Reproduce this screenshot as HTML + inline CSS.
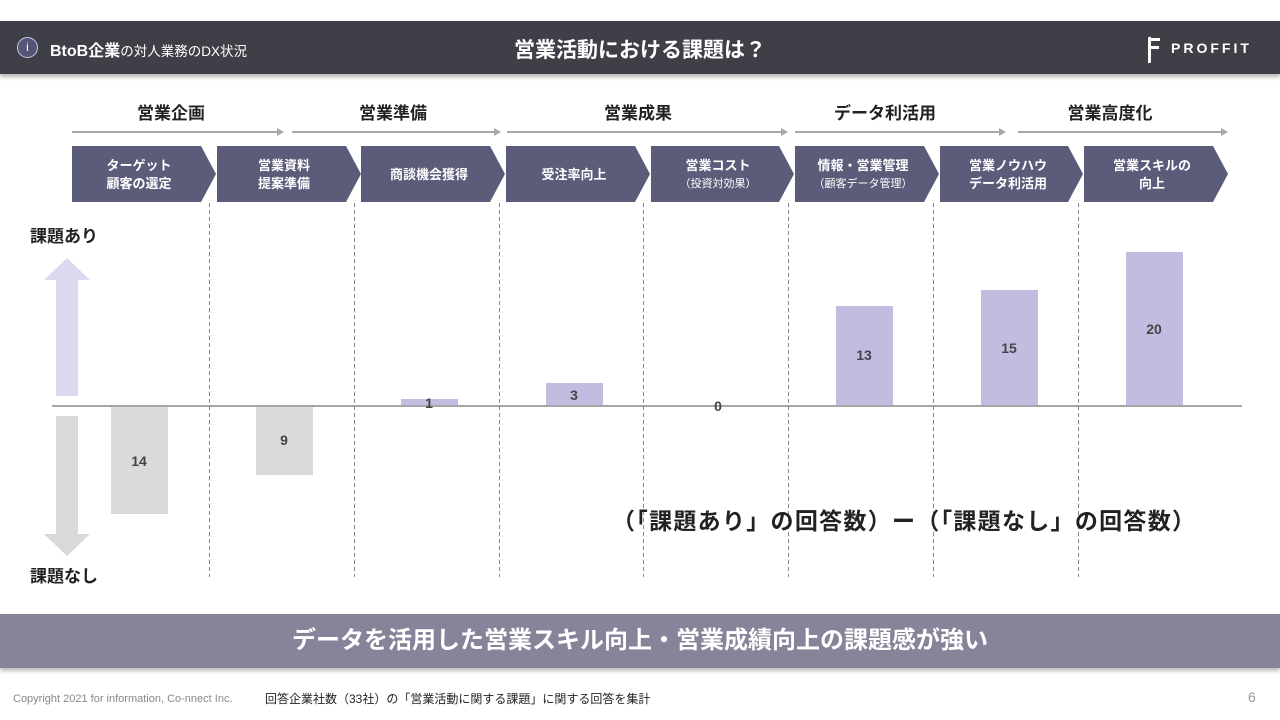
<!DOCTYPE html>
<html><head><meta charset="utf-8"><style>
body{margin:0;width:1280px;height:720px;background:#fff;overflow:hidden;font-family:"Liberation Sans","Noto Sans CJK JP",sans-serif;position:relative}
.a{position:absolute}
</style></head><body>
<div class="a" style="left:0;top:21px;width:1280px;height:53px;background:#3f4047;box-shadow:0 3px 4px rgba(0,0,0,0.3)"></div>
<div class="a" style="left:17px;top:37px;width:19px;height:19px;border:1.5px solid #c8c8e0;border-radius:50%;background:#55557a;color:#fff;font-size:12px;text-align:center;line-height:19px">i</div>
<div class="a" style="left:50px;top:37px;color:#fff;font-size:16px;font-weight:bold;white-space:nowrap">BtoB企業<span style="font-weight:normal;font-size:13.5px">の対人業務のDX状況</span></div>
<div class="a" style="left:0;width:1280px;top:34px;text-align:center;color:#fff;font-size:21px;font-weight:bold">営業活動における課題は？</div>
<div class="a" style="left:1148px;top:36px;width:9px;height:26px;border-left:3px solid #fff;transform:skewY(-12deg)"></div>
<div class="a" style="left:1150px;top:38px;width:10px;height:3px;background:#fff"></div>
<div class="a" style="left:1150px;top:46px;width:9px;height:3px;background:#fff"></div>
<div class="a" style="left:1171px;top:40px;color:#fff;font-size:14px;font-weight:bold;letter-spacing:3px">PROFFIT</div>

<svg class="a" style="left:0;top:0" width="1280" height="720">
<g font-family="Liberation Sans,Noto Sans CJK JP,sans-serif" font-weight="bold" font-size="17" fill="#222" text-anchor="middle">
<text x="171" y="119">営業企画</text><text x="393" y="119">営業準備</text><text x="638" y="119">営業成果</text><text x="885" y="119">データ利活用</text><text x="1110" y="119">営業高度化</text>
</g>
<g stroke="#a8a8a8" stroke-width="2" fill="#a8a8a8">
<line x1="72" y1="132" x2="278" y2="132"/><polygon points="277,128 284,132 277,136" stroke="none"/>
<line x1="292" y1="132" x2="495" y2="132"/><polygon points="494,128 501,132 494,136" stroke="none"/>
<line x1="507" y1="132" x2="782" y2="132"/><polygon points="781,128 788,132 781,136" stroke="none"/>
<line x1="795" y1="132" x2="1000" y2="132"/><polygon points="999,128 1006,132 999,136" stroke="none"/>
<line x1="1018" y1="132" x2="1222" y2="132"/><polygon points="1221,128 1228,132 1221,136" stroke="none"/>
</g>
<g fill="#5b5b7a">
<polygon points="72,146 201,146 216,174 201,202 72,202"/>
<polygon points="217,146 346,146 361,174 346,202 217,202"/>
<polygon points="361,146 490,146 505,174 490,202 361,202"/>
<polygon points="506,146 635,146 650,174 635,202 506,202"/>
<polygon points="651,146 779,146 794,174 779,202 651,202"/>
<polygon points="795,146 924,146 939,174 924,202 795,202"/>
<polygon points="940,146 1068,146 1083,174 1068,202 940,202"/>
<polygon points="1084,146 1213,146 1228,174 1213,202 1084,202"/>
</g>
<g font-family="Liberation Sans,Noto Sans CJK JP,sans-serif" font-weight="bold" font-size="13" fill="#fff" text-anchor="middle">
<text x="139" y="170">ターゲット</text><text x="139" y="188">顧客の選定</text>
<text x="284" y="170">営業資料</text><text x="284" y="188">提案準備</text>
<text x="429" y="179">商談機会獲得</text>
<text x="574" y="179">受注率向上</text>
<text x="718" y="170">営業コスト</text><text x="718" y="187" font-size="11" font-weight="normal">（投資対効果）</text>
<text x="863" y="170">情報・営業管理</text><text x="863" y="187" font-size="11" font-weight="normal">（顧客データ管理）</text>
<text x="1008" y="170">営業ノウハウ</text><text x="1008" y="188">データ利活用</text>
<text x="1152" y="170">営業スキルの</text><text x="1152" y="188">向上</text>
</g>
<g stroke="#888" stroke-width="1" stroke-dasharray="4,3">
<line x1="209.5" y1="203" x2="209.5" y2="577"/><line x1="354.5" y1="203" x2="354.5" y2="577"/><line x1="499.5" y1="203" x2="499.5" y2="577"/><line x1="643.5" y1="203" x2="643.5" y2="577"/><line x1="788.5" y1="203" x2="788.5" y2="577"/><line x1="933.5" y1="203" x2="933.5" y2="577"/><line x1="1078.5" y1="203" x2="1078.5" y2="577"/>
</g>
<polygon points="67,258 90,280 78,280 78,396 56,396 56,280 44,280" fill="#dcd8ee"/>
<polygon points="56,416 78,416 78,534 90,534 67,556 44,534 56,534" fill="#d9d9d9"/>
<g fill="#dadada"><rect x="111" y="407" width="57" height="107"/><rect x="256" y="407" width="57" height="68"/></g>
<g fill="#c4bbe0"><rect x="401" y="399" width="57" height="6"/><rect x="546" y="383" width="57" height="22"/><rect x="836" y="306" width="57" height="99"/><rect x="981" y="290" width="57" height="115"/><rect x="1126" y="252" width="57" height="153"/></g>
<line x1="52" y1="406" x2="1242" y2="406" stroke="#888" stroke-width="1.5"/>
<g font-family="Liberation Sans,Noto Sans CJK JP,sans-serif" font-weight="bold" font-size="14" fill="#444" text-anchor="middle">
<text x="139" y="466">14</text><text x="284" y="445">9</text><text x="429" y="408">1</text><text x="574" y="400">3</text><text x="718" y="411">0</text><text x="864" y="360">13</text><text x="1009" y="353">15</text><text x="1154" y="334">20</text>
</g>
<g font-family="Liberation Sans,Noto Sans CJK JP,sans-serif" font-weight="bold" font-size="17" fill="#222">
<text x="30" y="242">課題あり</text><text x="30" y="582">課題なし</text>
</g>
<text x="612" y="529" font-family="Noto Sans CJK JP,sans-serif" font-weight="bold" font-size="23" fill="#222" textLength="583" lengthAdjust="spacing">（「課題あり」の回答数）ー（「課題なし」の回答数）</text>
</svg>
<div class="a" style="left:0;top:614px;width:1280px;height:54px;background:#858499;box-shadow:0 3px 4px rgba(0,0,0,0.25);color:#fff;font-size:24px;font-weight:bold;text-align:center;line-height:54px">データを活用した営業スキル向上・営業成績向上の課題感が強い</div>
<div class="a" style="left:13px;top:693px;font-size:11px;color:#888;white-space:nowrap">Copyright 2021 for information, Co-nnect Inc.</div>
<div class="a" style="left:265px;top:690px;font-size:12px;color:#222;white-space:nowrap">回答企業社数（33社）の「営業活動に関する課題」に関する回答を集計</div>
<div class="a" style="left:1248px;top:689px;font-size:14px;color:#999">6</div>
</body></html>
